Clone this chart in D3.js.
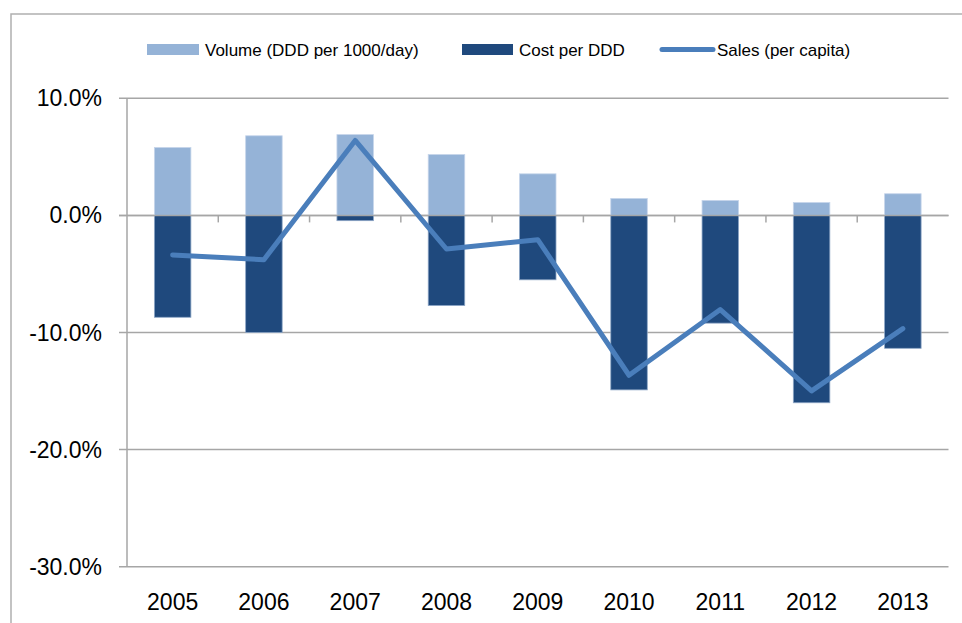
<!DOCTYPE html>
<html>
<head>
<meta charset="utf-8">
<script src="https://cdn.jsdelivr.net/npm/d3@7"></script>
<style>
  html, body { margin: 0; padding: 0; background: #fff; }
  svg { display: block; font-family: "Liberation Sans", Arial, sans-serif; }
</style>
</head>
<body>
<svg id="chart" width="962" height="623"></svg>
<script>
// Annual growth rates, shown as fractions
const years = ["2005", "2006", "2007", "2008", "2009", "2010", "2011", "2012", "2013"];
const volume = [0.058, 0.068, 0.069, 0.052, 0.0355, 0.0145, 0.0128, 0.011, 0.0185];
const cost = [-0.087, -0.100, -0.0045, -0.077, -0.055, -0.149, -0.092, -0.160, -0.1135];
const sales = [-0.0338, -0.0378, 0.064, -0.0287, -0.0207, -0.1365, -0.0804, -0.1498, -0.0967];
const yTicks = [0.1, 0, -0.1, -0.2, -0.3];

const seriesNames = ["Volume (DDD per 1000/day)", "Cost per DDD", "Sales (per capita)"];
const colors = { volume: "#95b3d7", cost: "#1f497d", sales: "#4a7ebb" };

const svg = d3.select("#chart");
const gridColor = "#a6a6a6";

// chart frame
svg.append("path")
  .attr("d", "M11,623 L11,14 L962,14")
  .attr("fill", "none")
  .attr("stroke", "#b0b0b0")
  .attr("stroke-width", 1.5);

const plot = { left: 127, right: 948.5, top: 98.3, bottom: 566.7 };

const x = d3.scaleBand()
  .domain(years)
  .range([plot.left, plot.right])
  .paddingInner(0.6)
  .paddingOuter(0.3);

const y = d3.scaleLinear()
  .domain([-0.3, 0.1])
  .range([plot.bottom, plot.top]);

// horizontal gridlines
svg.append("g")
  .selectAll("line")
  .data(yTicks)
  .join("line")
  .attr("x1", plot.left - 8)
  .attr("x2", plot.right)
  .attr("y1", d => y(d))
  .attr("y2", d => y(d))
  .attr("stroke", gridColor)
  .attr("stroke-width", 1.5);

// vertical axis line
svg.append("line")
  .attr("x1", plot.left).attr("x2", plot.left)
  .attr("y1", plot.top).attr("y2", plot.bottom)
  .attr("stroke", gridColor)
  .attr("stroke-width", 1.5);

// y tick labels, with a plain hyphen for negatives
const fmt = d => (d * 100).toFixed(1) + "%";
svg.append("g")
  .selectAll("text")
  .data(yTicks)
  .join("text")
  .attr("x", 102)
  .attr("y", d => y(d))
  .attr("dy", "0.35em")
  .attr("text-anchor", "end")
  .attr("font-size", 23)
  .attr("fill", "#000")
  .text(d => fmt(d));

// category tick marks on the zero line
const catBounds = d3.range(1, years.length).map(i => plot.left + (plot.right - plot.left) * i / years.length);
svg.append("g")
  .selectAll("line")
  .data(catBounds)
  .join("line")
  .attr("x1", d => d).attr("x2", d => d)
  .attr("y1", y(0)).attr("y2", y(0) + 7)
  .attr("stroke", gridColor)
  .attr("stroke-width", 1.5);

// stacked bars: volume above zero, cost below zero
const bars = svg.append("g");
bars.selectAll("rect.vol")
  .data(years)
  .join("rect")
  .attr("class", "vol")
  .attr("x", d => x(d))
  .attr("width", x.bandwidth())
  .attr("y", (d, i) => y(Math.max(volume[i], 0)))
  .attr("height", (d, i) => Math.abs(y(volume[i]) - y(0)))
  .attr("fill", colors.volume)
  .attr("stroke", "#c6d5ea")
  .attr("stroke-width", 0.8);

bars.selectAll("rect.cost")
  .data(years)
  .join("rect")
  .attr("class", "cost")
  .attr("x", d => x(d))
  .attr("width", x.bandwidth())
  .attr("y", y(0))
  .attr("height", (d, i) => Math.abs(y(cost[i]) - y(0)))
  .attr("fill", colors.cost)
  .attr("stroke", "#8da6c6")
  .attr("stroke-width", 0.8);

// zero line drawn over the bars
svg.append("line")
  .attr("x1", plot.left - 8).attr("x2", plot.right)
  .attr("y1", y(0)).attr("y2", y(0))
  .attr("stroke", gridColor)
  .attr("stroke-width", 1.5)
  .attr("opacity", 0.9);

// sales line
const line = d3.line()
  .x((d, i) => x(years[i]) + x.bandwidth() / 2)
  .y(d => y(d));

svg.append("path")
  .datum(sales)
  .attr("d", line)
  .attr("fill", "none")
  .attr("stroke", colors.sales)
  .attr("stroke-width", 5)
  .attr("stroke-linejoin", "round")
  .attr("stroke-linecap", "round");

// x labels
svg.append("g")
  .selectAll("text")
  .data(years)
  .join("text")
  .attr("x", d => x(d) + x.bandwidth() / 2)
  .attr("y", 602)
  .attr("dy", "0.35em")
  .attr("text-anchor", "middle")
  .attr("font-size", 23)
  .attr("fill", "#000")
  .text(d => d);

// legend
const legend = svg.append("g").attr("font-size", 17).attr("fill", "#000");
legend.append("rect").attr("x", 147).attr("y", 44).attr("width", 52).attr("height", 11).attr("fill", colors.volume);
legend.append("text").attr("x", 205).attr("y", 55.5).text(seriesNames[0]);
legend.append("rect").attr("x", 462).attr("y", 44).attr("width", 51).attr("height", 11).attr("fill", colors.cost);
legend.append("text").attr("x", 519).attr("y", 55.5).text(seriesNames[1]);
legend.append("line").attr("x1", 662).attr("x2", 713).attr("y1", 49.5).attr("y2", 49.5)
  .attr("stroke", colors.sales).attr("stroke-width", 5).attr("stroke-linecap", "round");
legend.append("text").attr("x", 717).attr("y", 55.5).text(seriesNames[2]);
</script>
</body>
</html>
